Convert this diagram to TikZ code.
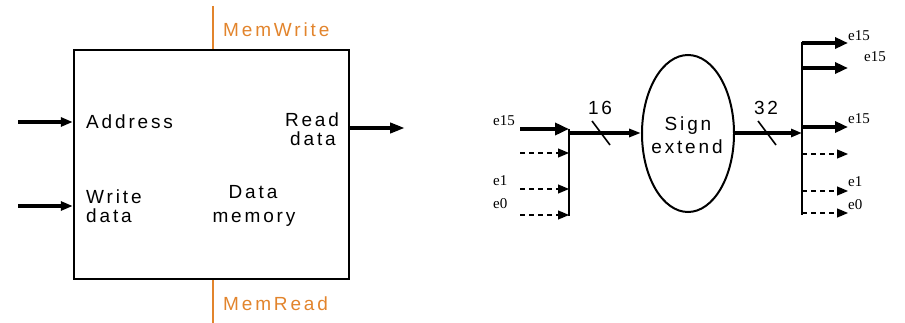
\documentclass[tikz,border=0pt]{standalone}
\usepackage{fontspec}
\setmainfont{Liberation Sans}
\newfontfamily\blockfont{Liberation Sans}[LetterSpace=15]
\newfontfamily\bitfont{Liberation Serif}
\usetikzlibrary{arrows.meta,shapes.geometric}
\definecolor{ctrl}{RGB}{226,132,44}

\begin{document}
\begin{tikzpicture}[x=1pt,y=-1pt,
  lbl/.style={font=\blockfont\fontsize{19}{22}\selectfont, inner sep=0pt, anchor=base},
  lblw/.style={lbl, anchor=base west},
  bitlbl/.style={font=\bitfont\fontsize{15}{17}\selectfont, inner sep=0pt, anchor=base west},
  ctrlline/.style={draw=ctrl, line width=2pt},
  ctrllbl/.style={lblw, text=ctrl},
  wide/.style={line width=4.5pt, -{Triangle[length=13pt,width=11pt]}},
  memin/.style={line width=4.5pt, -{Triangle[length=12pt,width=9pt]}},
  buswire/.style={line width=2.4pt},
  thinbit/.style={line width=1.2pt, dash pattern=on 5pt off 4pt, -{Triangle[length=11pt,width=9pt]}},
  slash/.style={line width=1.6pt},
]
\useasboundingbox (0,0) rectangle (905,323);

% ---------------- Data memory ----------------
\node[draw, line width=2.5pt, minimum width=275pt, minimum height=229pt, inner sep=0pt] (mem) at (211.5,164.5) {};

\coordinate (mwTop) at (212.5,6);
\coordinate (mrBot) at (212.5,323);
\draw[ctrlline] (mwTop) -- (mwTop |- mem.north);
\draw[ctrlline] (mrBot |- mem.south) -- (mrBot);
\node[ctrllbl] (memwrite) at (223,37) {MemWrite};
\node[ctrllbl] (memread) at (223,310) {MemRead};

\coordinate (addrIn) at (18,122);
\coordinate (wdIn) at (18,206);
\coordinate (rdOut) at (405,128);
\draw[memin] (addrIn) -- (mem.west |- addrIn);
\draw[memin] (wdIn) -- (mem.west |- wdIn);
\draw[line width=4.5pt, -{Triangle[length=15pt,width=10pt]}] (mem.east |- rdOut) -- (rdOut);

\node[lblw] (addr) at (86,129) {Address};
\node[lblw] (write) at (86,204) {Write};
\node[lblw] (wdata) at (86,223) {data};
\node[lbl] (read) at (312,127) {Read};
\node[lbl] (rdata) at (313,146) {data};
\node[lbl] (dname) at (253,199) {Data};
\node[lbl] (mname) at (254,223) {memory};

% ---------------- Sign extension ----------------
\node[draw, ellipse, line width=2pt, minimum width=92pt, minimum height=157pt, inner sep=0pt] (sx) at (688,133.5) {};
\node[lbl] (sign) at (688,131) {Sign};
\node[lbl] (extend) at (687,154) {extend};

% input bus, 16 bits
\coordinate (lbTop) at (569,129);
\coordinate (lbBot) at (569,216);
\coordinate (lbOut) at (569,133);
\draw[buswire] (lbTop) -- (lbBot);
\coordinate (i15) at (520,129);
\coordinate (ix) at (520,153);
\coordinate (i1) at (520,189);
\coordinate (i0) at (520,215);
\draw[line width=4.5pt, -{Triangle[length=14pt,width=12pt]}] (i15) -- (lbTop);
\draw[thinbit] (ix) -- (ix -| lbTop);
\draw[thinbit] (i1) -- (i1 -| lbTop);
\draw[thinbit] (i0) -- (i0 -| lbTop);
\node[bitlbl] (ie15) at (493,126) {e15};
\node[bitlbl] (ie1) at (493,186) {e1};
\node[bitlbl] (ie0) at (493,209) {e0};

\draw[line width=4.5pt, -{Triangle[length=12pt,width=8pt]}] (lbOut) -- (sx.west |- lbOut);
\coordinate (s16a) at (592,121);
\coordinate (s16b) at (610,145);
\draw[slash] (s16a) -- (s16b);
\node[lbl] (w16) at (600,115) {16};

% output bus, 32 bits
\coordinate (rbTop) at (802,42);
\coordinate (rbBot) at (802,215);
\coordinate (rbIn) at (802,133);
\draw[buswire] (rbTop) -- (rbBot);
\draw[line width=4.5pt, -{Triangle[length=11pt,width=8pt]}] (sx.east |- rbIn) -- (rbIn);
\coordinate (s32a) at (758,121);
\coordinate (s32b) at (776,145);
\draw[slash] (s32a) -- (s32b);
\node[lbl] (w32) at (766,115) {32};

\coordinate (o31) at (848,43);
\coordinate (o30) at (848,68);
\coordinate (o15) at (848,127);
\coordinate (ox) at (848,154);
\coordinate (o1) at (848,191);
\coordinate (o0) at (848,213);
\draw[wide] (o31 -| rbTop) -- (o31);
\draw[wide] (o30 -| rbTop) -- (o30);
\draw[wide] (o15 -| rbTop) -- (o15);
\draw[thinbit] (ox -| rbTop) -- (ox);
\draw[thinbit] (o1 -| rbTop) -- (o1);
\draw[thinbit] (o0 -| rbTop) -- (o0);
\node[bitlbl] (oe31) at (848,41) {e15};
\node[bitlbl] (oe30) at (864,62) {e15};
\node[bitlbl] (oe15) at (848,124) {e15};
\node[bitlbl] (oe1) at (848,187) {e1};
\node[bitlbl] (oe0) at (848,210) {e0};
\end{tikzpicture}
\end{document}
